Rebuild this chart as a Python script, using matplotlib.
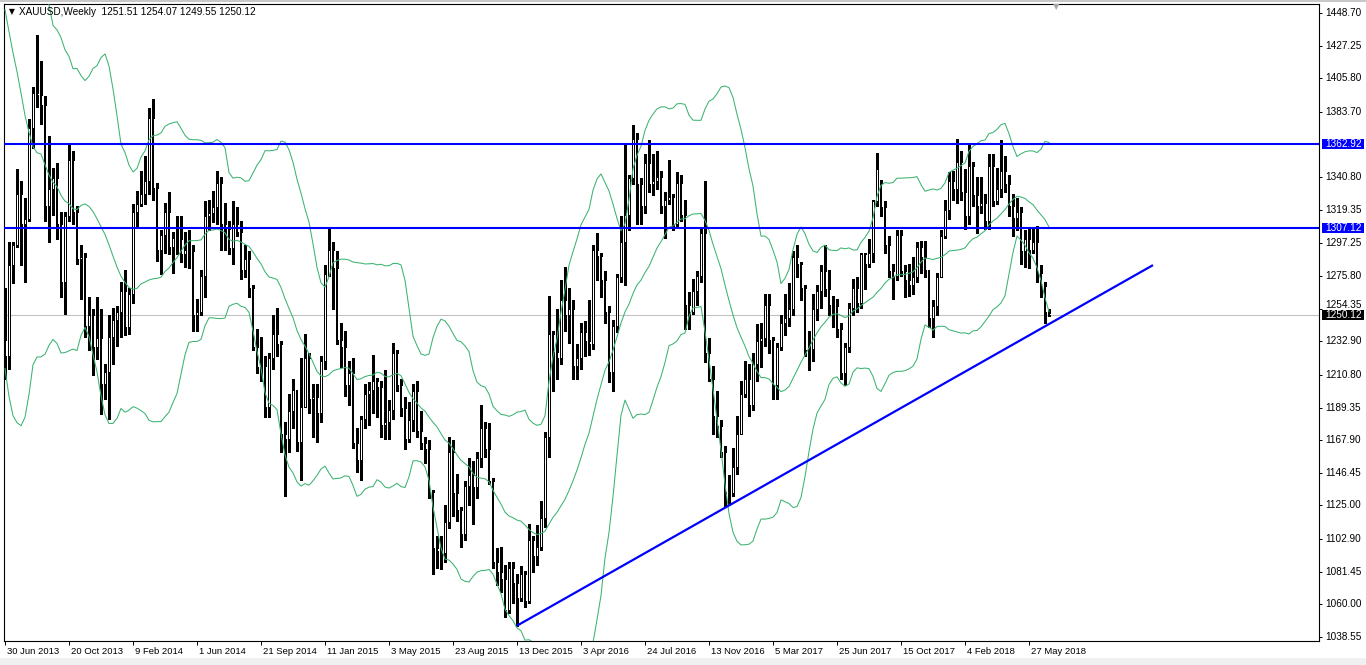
import matplotlib
matplotlib.use("Agg")
import matplotlib.pyplot as plt
from matplotlib.patches import Rectangle
import numpy as np
import pandas as pd

# ---------------- data ----------------
symbol_title = "XAUUSD,Weekly"
start_week = "2013-06-30"

# closes of the 19 weeks before the first visible candle (feed the Bollinger bands only)
history_closes = [1572, 1574, 1577, 1592, 1608, 1596, 1581, 1477, 1405, 1463,
                  1468, 1437, 1365, 1386, 1393, 1383, 1388, 1296, 1234]

opens = [
    1234, 1223, 1283, 1296, 1330, 1310, 1313, 1373, 1396, 1395,
    1388, 1322, 1333, 1340, 1310, 1272, 1315, 1352, 1318, 1287,
    1288, 1243, 1250, 1229, 1235, 1205, 1213, 1236, 1247, 1252,
    1266, 1242, 1264, 1318, 1323, 1330, 1338, 1380, 1334, 1293,
    1303, 1318, 1295, 1301, 1300, 1290, 1293, 1292, 1250, 1252,
    1276, 1315, 1317, 1321, 1337, 1310, 1307, 1294, 1310, 1305,
    1280, 1287, 1268, 1229, 1216, 1217, 1190, 1222, 1238, 1231,
    1172, 1169, 1187, 1201, 1167, 1190, 1222, 1195, 1196, 1186,
    1220, 1277, 1293, 1281, 1234, 1229, 1204, 1212, 1166, 1155,
    1182, 1198, 1201, 1207, 1203, 1178, 1180, 1188, 1225, 1204,
    1189, 1169, 1181, 1200, 1174, 1166, 1162, 1134, 1097, 1095,
    1094, 1114, 1160, 1133, 1122, 1106, 1138, 1145, 1137, 1156,
    1176, 1162, 1141, 1088, 1081, 1077, 1056, 1084, 1074, 1064,
    1080, 1062, 1102, 1092, 1098, 1117, 1170, 1238, 1226, 1222,
    1260, 1250, 1254, 1217, 1222, 1239, 1233, 1231, 1293, 1289,
    1273, 1252, 1213, 1243, 1275, 1298, 1316, 1340, 1366, 1336,
    1322, 1350, 1336, 1338, 1341, 1322, 1326, 1328, 1310, 1337,
    1316, 1257, 1252, 1266, 1276, 1304, 1225, 1208, 1184, 1177,
    1160, 1134, 1133, 1150, 1172, 1198, 1208, 1191, 1218, 1233,
    1235, 1257, 1234, 1204, 1229, 1245, 1248, 1254, 1288, 1284,
    1268, 1227, 1228, 1254, 1266, 1279, 1267, 1257, 1256, 1241,
    1212, 1229, 1255, 1268, 1258, 1290, 1284, 1291, 1325, 1337,
    1321, 1296, 1279, 1276, 1303, 1279, 1273, 1270, 1275, 1295,
    1288, 1280, 1248, 1256, 1275, 1302, 1319, 1338, 1333, 1351,
    1331, 1315, 1348, 1329, 1322, 1324, 1312, 1348, 1325, 1333,
    1345, 1336, 1322, 1314, 1318, 1292, 1300, 1293, 1298, 1278,
    1269, 1251.51]

highs = [
    1268, 1298, 1298, 1346, 1338, 1327, 1379, 1400, 1434, 1417,
    1394, 1368, 1347, 1350, 1318, 1318, 1362, 1358, 1322, 1296,
    1291, 1262, 1254, 1262, 1254, 1218, 1250, 1255, 1256, 1272,
    1280, 1268, 1323, 1332, 1345, 1355, 1386, 1392, 1337, 1306,
    1324, 1331, 1305, 1315, 1315, 1305, 1306, 1296, 1261, 1280,
    1325, 1326, 1332, 1345, 1341, 1324, 1312, 1325, 1321, 1312,
    1296, 1292, 1270, 1241, 1236, 1223, 1225, 1250, 1255, 1233,
    1180, 1198, 1208, 1201, 1222, 1238, 1225, 1205, 1205, 1223,
    1283, 1307, 1298, 1292, 1245, 1240, 1220, 1222, 1176, 1184,
    1205, 1206, 1224, 1209, 1207, 1214, 1194, 1232, 1227, 1208,
    1196, 1193, 1205, 1207, 1187, 1170, 1168, 1135, 1105, 1105,
    1125, 1170, 1168, 1146, 1124, 1141, 1156, 1154, 1160, 1191,
    1180, 1179, 1143, 1097, 1098, 1086, 1088, 1088, 1080, 1085,
    1082, 1113, 1105, 1112, 1128, 1173, 1263, 1240, 1254, 1273,
    1282, 1268, 1260, 1231, 1245, 1246, 1260, 1296, 1304, 1291,
    1279, 1256, 1247, 1277, 1315, 1362, 1342, 1375, 1370, 1340,
    1356, 1365, 1356, 1358, 1345, 1331, 1352, 1330, 1344, 1342,
    1326, 1265, 1274, 1279, 1308, 1338, 1235, 1217, 1200, 1181,
    1164, 1145, 1163, 1184, 1207, 1220, 1218, 1225, 1244, 1245,
    1264, 1264, 1236, 1232, 1250, 1264, 1271, 1292, 1296, 1285,
    1270, 1240, 1264, 1270, 1283, 1296, 1280, 1263, 1261, 1245,
    1232, 1258, 1274, 1275, 1291, 1291, 1300, 1326, 1357, 1339,
    1325, 1302, 1284, 1306, 1306, 1283, 1284, 1288, 1298, 1299,
    1299, 1280, 1260, 1278, 1306, 1326, 1344, 1345, 1366, 1358,
    1346, 1362, 1351, 1341, 1341, 1330, 1356, 1356, 1347, 1365,
    1355, 1342, 1330, 1327, 1321, 1306, 1307, 1308, 1309, 1283,
    1272, 1254.07]

lows = [
    1208, 1215, 1271, 1295, 1283, 1272, 1312, 1360, 1387, 1376,
    1312, 1298, 1316, 1300, 1262, 1251, 1312, 1310, 1284, 1261,
    1236, 1227, 1211, 1221, 1185, 1195, 1182, 1218, 1230, 1236,
    1237, 1238, 1258, 1309, 1322, 1323, 1330, 1326, 1286, 1277,
    1291, 1290, 1278, 1290, 1285, 1282, 1281, 1240, 1240, 1250,
    1262, 1306, 1311, 1310, 1293, 1293, 1290, 1284, 1302, 1274,
    1275, 1262, 1227, 1212, 1207, 1183, 1183, 1215, 1223, 1160,
    1131, 1160, 1176, 1161, 1142, 1190, 1186, 1170, 1167, 1180,
    1215, 1276, 1254, 1231, 1216, 1197, 1191, 1163, 1147, 1142,
    1176, 1178, 1186, 1183, 1170, 1169, 1169, 1182, 1200, 1184,
    1162, 1167, 1174, 1170, 1162, 1153, 1130, 1080, 1084, 1083,
    1088, 1110, 1118, 1115, 1098, 1102, 1125, 1113, 1130, 1150,
    1157, 1139, 1084, 1073, 1068, 1052, 1054, 1061, 1046, 1062,
    1058, 1061, 1081, 1086, 1096, 1111, 1157, 1200, 1208, 1218,
    1240, 1232, 1208, 1208, 1215, 1223, 1224, 1228, 1273, 1262,
    1245, 1206, 1200, 1239, 1272, 1270, 1306, 1336, 1310, 1310,
    1317, 1331, 1329, 1333, 1317, 1301, 1323, 1306, 1308, 1312,
    1241, 1241, 1251, 1257, 1272, 1219, 1207, 1172, 1170, 1157,
    1124, 1125, 1131, 1146, 1172, 1196, 1184, 1188, 1207, 1216,
    1230, 1225, 1195, 1195, 1227, 1237, 1243, 1250, 1275, 1260,
    1223, 1214, 1220, 1247, 1255, 1263, 1250, 1242, 1236, 1208,
    1204, 1226, 1250, 1252, 1255, 1267, 1282, 1285, 1322, 1315,
    1291, 1275, 1261, 1273, 1276, 1262, 1263, 1264, 1272, 1278,
    1275, 1242, 1236, 1250, 1275, 1301, 1313, 1326, 1324, 1326,
    1307, 1310, 1322, 1304, 1317, 1307, 1307, 1322, 1323, 1328,
    1331, 1315, 1302, 1306, 1284, 1282, 1281, 1291, 1272, 1262,
    1245, 1249.55]

closes = [
    1223, 1283, 1296, 1330, 1310, 1313, 1373, 1396, 1395, 1388,
    1322, 1333, 1340, 1310, 1272, 1315, 1352, 1318, 1287, 1288,
    1243, 1250, 1229, 1235, 1205, 1213, 1236, 1247, 1252, 1266,
    1242, 1264, 1318, 1323, 1330, 1338, 1380, 1334, 1293, 1303,
    1318, 1295, 1301, 1300, 1290, 1293, 1292, 1250, 1252, 1276,
    1315, 1317, 1321, 1337, 1310, 1307, 1294, 1310, 1305, 1280,
    1287, 1268, 1229, 1216, 1217, 1190, 1222, 1238, 1231, 1172,
    1169, 1187, 1201, 1167, 1190, 1222, 1195, 1196, 1186, 1220,
    1277, 1293, 1281, 1234, 1229, 1204, 1212, 1166, 1155, 1182,
    1198, 1201, 1207, 1203, 1178, 1180, 1188, 1225, 1204, 1189,
    1169, 1181, 1200, 1174, 1166, 1162, 1134, 1097, 1095, 1094,
    1114, 1160, 1133, 1122, 1106, 1138, 1145, 1137, 1156, 1176,
    1162, 1141, 1088, 1081, 1077, 1056, 1084, 1074, 1064, 1080,
    1062, 1102, 1092, 1098, 1117, 1170, 1238, 1226, 1222, 1260,
    1250, 1254, 1217, 1222, 1239, 1233, 1231, 1293, 1289, 1273,
    1252, 1213, 1243, 1275, 1298, 1316, 1340, 1366, 1336, 1322,
    1350, 1336, 1338, 1341, 1322, 1326, 1328, 1310, 1337, 1316,
    1257, 1252, 1266, 1276, 1304, 1225, 1208, 1184, 1177, 1160,
    1134, 1133, 1150, 1172, 1198, 1208, 1191, 1218, 1233, 1235,
    1257, 1234, 1204, 1229, 1245, 1248, 1254, 1288, 1284, 1268,
    1227, 1228, 1254, 1266, 1279, 1267, 1257, 1256, 1241, 1212,
    1229, 1255, 1268, 1258, 1290, 1284, 1291, 1325, 1346, 1321,
    1296, 1279, 1276, 1303, 1279, 1273, 1270, 1275, 1295, 1288,
    1280, 1248, 1256, 1275, 1302, 1319, 1338, 1333, 1351, 1331,
    1315, 1348, 1329, 1322, 1324, 1312, 1348, 1325, 1333, 1345,
    1336, 1322, 1314, 1318, 1292, 1300, 1293, 1298, 1278, 1269,
    1252, 1250.12]

resistance_levels = [1362.92, 1307.12]
trend_points_dates = ["2015-12-13", "2018-12-30"]
trend_points_prices = [1046.0, 1283.0]

price_ticks = [1448.70, 1427.25, 1405.80, 1383.70, 1340.80, 1319.35, 1297.25,
               1275.80, 1254.35, 1232.90, 1210.80, 1189.35, 1167.90, 1146.45,
               1125.00, 1102.90, 1081.45, 1060.00, 1038.55]

date_tick_labels = ["30 Jun 2013", "20 Oct 2013", "9 Feb 2014", "1 Jun 2014",
                    "21 Sep 2014", "11 Jan 2015", "3 May 2015", "23 Aug 2015",
                    "13 Dec 2015", "3 Apr 2016", "24 Jul 2016", "13 Nov 2016",
                    "5 Mar 2017", "25 Jun 2017", "15 Oct 2017", "4 Feb 2018",
                    "27 May 2018"]

bb_period = 20
bb_dev = 2.0

# ---------------- layout ----------------
W, H = 1366, 665
plt.rcParams['font.family'] = ['Liberation Sans', 'DejaVu Sans']
fig = plt.figure(figsize=(W / 100, H / 100), dpi=100)
fig.patch.set_facecolor('white')

ax_l, ax_r, ax_t, ax_b = 4, 1319, 4, 641
ax = fig.add_axes([ax_l / W, (H - ax_b) / H, (ax_r - ax_l) / W, (ax_b - ax_t) / H])
ax.set_facecolor('white')

n = len(closes)
start = pd.Timestamp(start_week)
xs = np.arange(n)

def week_index(d):
    return (pd.Timestamp(d) - start).days / 7.0

px_per_bar = 4.0
x0 = (ax_l - 5) / px_per_bar
x1 = (ax_r - 5) / px_per_bar
price_per_px = (1448.70 - 1038.55) / (637 - 13)
y_top = 1448.70 + (13 - ax_t) * price_per_px
y_bot = 1448.70 - (ax_b - 13) * price_per_px
ax.set_xlim(x0, x1)
ax.set_ylim(y_bot, y_top)

# ---------------- Bollinger bands ----------------
all_c = pd.Series(history_closes + list(closes), dtype=float)
mid = all_c.rolling(bb_period).mean().values[-n:]
sd = all_c.rolling(bb_period).std(ddof=0).values[-n:]
upper = mid + bb_dev * sd
lower = mid - bb_dev * sd
band_col = '#3CB371'
for band in (upper, mid, lower):
    ax.plot(xs, band, color=band_col, lw=0.75, zorder=4)

# ---------------- candles ----------------
o = np.array(opens, float); h = np.array(highs, float)
l = np.array(lows, float); c = np.array(closes, float)
bull = c >= o
half = 0.36   # half body width in bars (about 3 px wide)
top = np.maximum(o, c); bot = np.minimum(o, c)
ax.vlines(xs, top, h, color='black', lw=0.75, zorder=2, antialiased=False)
ax.vlines(xs, l, bot, color='black', lw=0.75, zorder=2, antialiased=False)
ax.bar(xs[~bull], (top - bot)[~bull], bottom=bot[~bull], width=2 * half,
       color='black', linewidth=0, zorder=3, antialiased=False)
ax.bar(xs[bull], (top - bot)[bull], bottom=bot[bull], width=2 * half,
       color='white', linewidth=0, zorder=3, antialiased=False)
bx = xs[bull]
ax.vlines(bx - half, bot[bull], top[bull], color='black', lw=0.72, zorder=3.5,
          antialiased=False)
ax.vlines(bx + half, bot[bull], top[bull], color='black', lw=0.72, zorder=3.5,
          antialiased=False)
ax.hlines(top[bull], bx - half, bx + half, color='black', lw=0.72, zorder=3.5,
          antialiased=False)
ax.hlines(bot[bull], bx - half, bx + half, color='black', lw=0.72, zorder=3.5,
          antialiased=False)

# ---------------- lines ----------------
ax.axhline(closes[-1], color='#C0C0C0', lw=0.75, zorder=1)
for lvl in resistance_levels:
    ax.axhline(lvl, color='#0000FF', lw=1.5, zorder=5)
tx = [week_index(d) for d in trend_points_dates]
ax.plot(tx, trend_points_prices, color='#0000FF', lw=1.6, zorder=5,
        solid_capstyle='butt')

# ---------------- axes styling ----------------
for s in ax.spines.values():
    s.set_linewidth(0.8)
    s.set_color('black')

ax.yaxis.set_ticks_position('right')
ax.set_yticks(price_ticks)
ax.set_yticklabels([])
ax.tick_params(axis='y', direction='out', length=2.5, width=0.7, colors='black')

tick_pos = [week_index(pd.to_datetime(s, format="%d %b %Y")) for s in date_tick_labels]
ax.set_xticks(tick_pos)
ax.set_xticklabels([])
ax.tick_params(axis='x', direction='out', length=3.0, width=0.7, colors='black')

last_close = closes[-1]
for p in price_ticks:
    dy = 2.5 if abs(p - last_close) < 6 else 0
    ax.annotate(f"{p:.2f}", xy=(1, p), xycoords=('axes fraction', 'data'),
                xytext=(4.8, dy), textcoords='offset points', ha='left',
                va='center', fontsize=7.2, color='black', annotation_clip=False)

for lbl, pos in zip(date_tick_labels, tick_pos):
    ax.annotate(lbl, xy=(pos, 0), xycoords=('data', 'axes fraction'),
                xytext=(1.5, -4.0), textcoords='offset points', ha='left',
                va='top', fontsize=6.8, color='black', annotation_clip=False)

# price boxes on the right scale
axw_px = ax_r - ax_l
box_x0 = 1 + 3 / axw_px
box_w = 42 / axw_px
box_h = 10 * price_per_px
trans = ax.get_yaxis_transform()
for val, col in [(resistance_levels[0], '#0000FF'), (resistance_levels[1], '#0000FF'),
                 (last_close, 'black')]:
    ax.add_patch(Rectangle((box_x0, val - box_h / 2), box_w, box_h, transform=trans,
                           facecolor=col, edgecolor='none', clip_on=False, zorder=10))
    ax.annotate(f"{val:.2f}", xy=(1, val), xycoords=('axes fraction', 'data'),
                xytext=(4.8, 0), textcoords='offset points', ha='left', va='center',
                fontsize=7.2, color='white', annotation_clip=False, zorder=11)

# ---------------- header ----------------
fig.text(9 / W, 1 - 11.5 / H, "\u25BC", fontsize=5.5, family='DejaVu Sans',
         ha='left', va='center', color='black')
fig.text(19 / W, 1 - 12 / H,
         f"{symbol_title}  {opens[-1]:.2f} {highs[-1]:.2f} {lows[-1]:.2f} {closes[-1]:.2f}",
         fontsize=7.2, ha='left', va='center', color='black')
fig.text(1056 / W, 1 - 7 / H, "\u25BC", fontsize=6, family='DejaVu Sans',
         ha='center', va='center', color='#A8A8A8')

# window chrome
fig.patches.append(Rectangle((0, 0), 1, 7 / H, transform=fig.transFigure,
                             facecolor='#F0F0F0', edgecolor='none', zorder=0))
fig.patches.append(Rectangle((0, 1 - 2 / H), 1, 2 / H, transform=fig.transFigure,
                             facecolor='#C8C8C8', edgecolor='none', zorder=0))

fig.savefig("out.png", dpi=100, facecolor='white')
